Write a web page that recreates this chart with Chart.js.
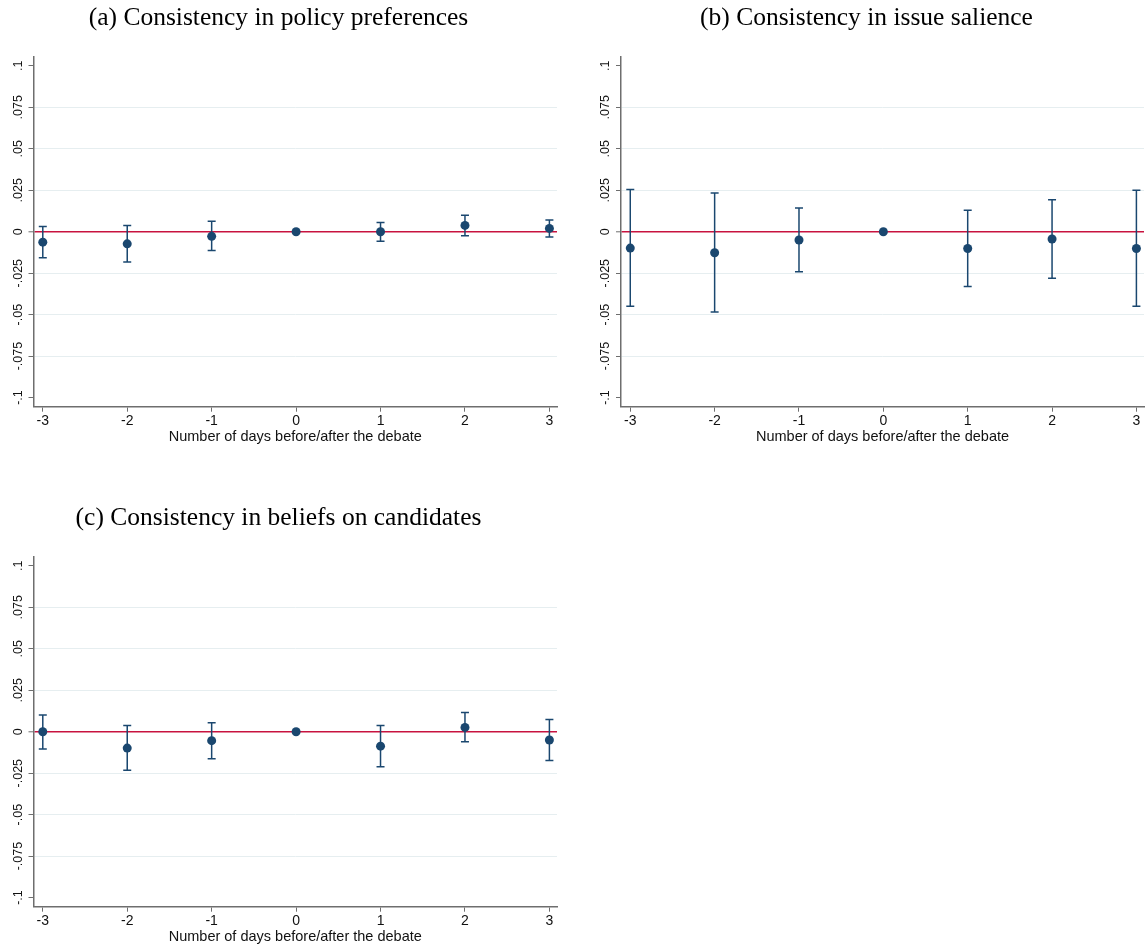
<!DOCTYPE html>
<html>
<head>
<meta charset="utf-8">
<script src="https://cdn.jsdelivr.net/npm/chart.js@4.4.1/dist/chart.umd.min.js"></script>
<style>
  html, body { margin: 0; padding: 0; background: #ffffff; }
  body { width: 1145px; height: 950px; position: relative; overflow: hidden; }
  .panel { position: absolute; }
</style>
</head>
<body>
<div class="panel" style="left:0px;top:0px;width:558px;height:450px"><canvas id="panelA"></canvas></div>
<div class="panel" style="left:589px;top:0px;width:556px;height:450px"><canvas id="panelB"></canvas></div>
<div class="panel" style="left:0px;top:500px;width:558px;height:450px"><canvas id="panelC"></canvas></div>
<script>
// Days relative to the debate and axis tick labels
const days = [-3, -2, -1, 0, 1, 2, 3];
const xTickLabels = ['-3', '-2', '-1', '0', '1', '2', '3'];
const yTickValues = [-0.1, -0.075, -0.05, -0.025, 0, 0.025, 0.05, 0.075, 0.1];
const yTickLabels = ['-.1', '-.075', '-.05', '-.025', '0', '.025', '.05', '.075', '.1'];

// (a) Consistency in policy preferences: point estimates and 95% CI
const policyCoef = [-0.0063, -0.0073, -0.0028, 0, 0.0000, 0.0038, 0.0020];
const policyLow  = [-0.0157, -0.0183, -0.0113, null, -0.0058, -0.0024, -0.0032];
const policyHigh = [ 0.0032,  0.0038,  0.0063, null,  0.0056,  0.0099,  0.0071];

// (b) Consistency in issue salience
const salienceCoef = [-0.0099, -0.0127, -0.0050, 0, -0.0101, -0.0044, -0.0101];
const salienceLow  = [-0.0450, -0.0484, -0.0242, null, -0.0331, -0.0280, -0.0450];
const salienceHigh = [ 0.0254,  0.0234,  0.0143, null,  0.0129,  0.0192,  0.0250];

// (c) Consistency in beliefs on candidates
const beliefCoef = [ 0.0000, -0.0099, -0.0054, 0, -0.0087, 0.0026, -0.0050];
const beliefLow  = [-0.0105, -0.0233, -0.0163, null, -0.0211, -0.0060, -0.0174];
const beliefHigh = [ 0.0101,  0.0038,  0.0054, null,  0.0038,  0.0115,  0.0073];

const titles = {
  a: '(a) Consistency in policy preferences',
  b: '(b) Consistency in issue salience',
  c: '(c) Consistency in beliefs on candidates'
};
const xAxisTitle = 'Number of days before/after the debate';

const NAVY = '#1a476f';
const ZERO_RED = '#c8133f';
const GRID = '#e6eef0';
const AXIS = '#6e6e6e';

Chart.defaults.font.family = '"Liberation Sans", Arial, sans-serif';
Chart.defaults.font.size = 13;
Chart.defaults.color = '#111111';

// Build a line dataset of vertical whiskers separated by gaps
function whiskerPoints(low, high) {
  const pts = [];
  days.forEach((d, i) => {
    if (low[i] === null || high[i] === null) return;
    pts.push({ x: d, y: low[i] });
    pts.push({ x: d, y: high[i] });
    pts.push({ x: d, y: null });
  });
  return pts;
}

function makePanel(id, title, coef, low, high, yAxisWidth) {
  return new Chart(document.getElementById(id), {
    data: {
      datasets: [
        {
          type: 'scatter',
          data: days.map((d, i) => ({ x: d, y: coef[i] })),
          pointRadius: 4.5,
          pointHoverRadius: 4.5,
          pointBackgroundColor: NAVY,
          pointBorderColor: NAVY,
          pointBorderWidth: 0,
          order: 0
        },
        {
          type: 'line',
          data: whiskerPoints(low, high),
          borderColor: NAVY,
          borderWidth: 1.5,
          spanGaps: false,
          fill: false,
          tension: 0,
          pointStyle: 'line',
          pointRadius: 4,
          pointHoverRadius: 4,
          pointBorderColor: NAVY,
          pointBorderWidth: 1.5,
          order: 1
        }
      ]
    },
    options: {
      responsive: true,
      maintainAspectRatio: false,
      animation: false,
      events: [],
      layout: { autoPadding: false, padding: { left: 0, right: 1, top: 0, bottom: 0 } },
      plugins: {
        legend: { display: false },
        tooltip: { enabled: false },
        title: {
          display: true,
          text: title,
          color: '#000000',
          font: { family: '"Liberation Serif", "Times New Roman", serif', size: 25.5, weight: 'normal' },
          padding: { top: 3, bottom: 23.1 }
        }
      },
      scales: {
        x: {
          type: 'linear',
          min: -3.11,
          max: 3.09,
          afterBuildTicks: (scale) => { scale.ticks = days.map(v => ({ value: v })); },
          afterFit: (scale) => { scale.height = 43.3; },
          ticks: {
            padding: 1.5,
            color: '#111111',
            font: { size: 14 },
            callback: (value) => xTickLabels[days.indexOf(value)]
          },
          grid: {
            drawOnChartArea: false,
            drawTicks: true,
            tickLength: 5,
            tickColor: AXIS,
            tickWidth: 1
          },
          border: { display: true, color: AXIS, width: 1.5 },
          title: {
            display: true,
            text: xAxisTitle,
            color: '#111111',
            font: { size: 14.5 },
            padding: { top: 0, bottom: 4.6 }
          }
        },
        y: {
          type: 'linear',
          min: -0.1055,
          max: 0.1055,
          afterBuildTicks: (scale) => { scale.ticks = yTickValues.map(v => ({ value: v })); },
          afterFit: (scale) => { scale.width = yAxisWidth; },
          ticks: {
            minRotation: 90,
            maxRotation: 90,
            crossAlign: 'center',
            padding: -4,
            color: '#111111',
            font: { size: 12.5 },
            callback: (value) => yTickLabels[yTickValues.indexOf(value)]
          },
          grid: {
            color: (ctx) => {
              const v = ctx.tick ? ctx.tick.value : null;
              if (v === 0) return ZERO_RED;
              if (v !== null && Math.abs(v) > 0.09) return 'rgba(0,0,0,0)';
              return GRID;
            },
            lineWidth: (ctx) => (ctx.tick && ctx.tick.value === 0 ? 1.6 : 1),
            drawTicks: true,
            tickLength: 5,
            tickColor: AXIS,
            tickWidth: 1
          },
          border: { display: true, color: AXIS, width: 1.5 }
        }
      }
    }
  });
}

makePanel('panelA', titles.a, policyCoef, policyLow, policyHigh, 33.5);
makePanel('panelB', titles.b, salienceCoef, salienceLow, salienceHigh, 32);
makePanel('panelC', titles.c, beliefCoef, beliefLow, beliefHigh, 33.5);
</script>
</body>
</html>
